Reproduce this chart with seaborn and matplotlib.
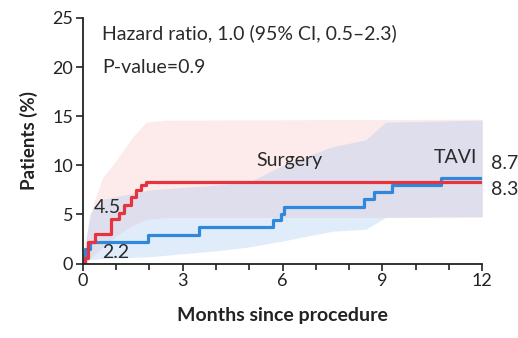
import matplotlib
matplotlib.use("Agg")
import matplotlib.pyplot as plt
import seaborn as sns
import pandas as pd
from matplotlib.ticker import MultipleLocator

# Kaplan-Meier step estimates (months, cumulative %)
surgery_t = [0, 0.05, 0.15, 0.35, 0.85, 1.1, 1.25, 1.45, 1.6, 1.75, 1.9, 12]
surgery_v = [0, 0.6, 2.2, 3.0, 4.5, 5.2, 6.0, 6.8, 7.5, 8.0, 8.3, 8.3]
tavi_t = [0, 0.05, 0.2, 1.95, 3.5, 5.7, 5.95, 6.05, 8.45, 8.75, 9.3, 10.75, 12]
tavi_v = [0, 1.5, 2.2, 2.9, 3.7, 4.4, 5.1, 5.8, 6.6, 7.3, 8.0, 8.7, 8.7]

# 95% confidence bands
surgery_ci_t = [0, 0.05, 0.3, 0.6, 1.0, 1.5, 1.9, 2.5, 12]
surgery_ci_hi = [0, 2.0, 6.0, 8.8, 10.5, 12.9, 14.4, 14.6, 14.7]
surgery_ci_lo = [0, 0.2, 0.8, 1.7, 2.8, 3.9, 4.5, 4.7, 4.7]
tavi_ci_t = [0, 0.2, 0.5, 2.0, 4.0, 5.0, 6.0, 7.5, 8.5, 9.1, 12]
tavi_ci_hi = [0, 5.0, 6.5, 7.5, 8.0, 8.3, 10.0, 11.9, 12.6, 14.4, 14.6]
tavi_ci_lo = [0, 0.4, 0.5, 0.7, 1.3, 1.7, 2.3, 3.3, 3.5, 4.7, 4.8]

final_labels = ["8.7", "8.3"]
x_ticks = [0, 3, 6, 9, 12]
y_ticks = [0, 5, 10, 15, 20, 25]

red = "#e5343d"
blue = "#2f88dc"

sns.set_theme(style="ticks")
plt.rcParams["font.family"] = ["Lato", "DejaVu Sans"]

fig = plt.figure(figsize=(5.18, 3.38), dpi=100)
ax = fig.add_axes([0.160, 0.220, 0.771, 0.727])

ax.fill_between(surgery_ci_t, surgery_ci_lo, surgery_ci_hi,
                color=(0.98, 0.72, 0.72), alpha=0.28, lw=0)
ax.fill_between(tavi_ci_t, tavi_ci_lo, tavi_ci_hi,
                color=(0.58, 0.74, 0.95), alpha=0.28, lw=0)

df_s = pd.DataFrame({"t": surgery_t, "v": surgery_v})
df_t = pd.DataFrame({"t": tavi_t, "v": tavi_v})
sns.lineplot(data=df_t, x="t", y="v", ax=ax, color=blue, lw=2.3,
             drawstyle="steps-post", estimator=None, sort=False)
sns.lineplot(data=df_s, x="t", y="v", ax=ax, color=red, lw=2.3,
             drawstyle="steps-post", estimator=None, sort=False)

ax.set_xlim(0, 12)
ax.set_ylim(0, 25)
ax.set_xticks(x_ticks)
ax.set_yticks(y_ticks)
ax.xaxis.set_minor_locator(MultipleLocator(1))
ax.tick_params(axis="both", which="major", labelsize=13, length=5,
               width=1.2, color="#222222", labelcolor="#222222", pad=2)
ax.tick_params(axis="x", which="minor", length=4, width=1.2, color="#222222")
for s in ["left", "bottom"]:
    ax.spines[s].set_linewidth(1.3)
    ax.spines[s].set_color("#222222")
sns.despine(ax=ax)

ax.set_xlabel("Months since procedure", fontsize=14, fontweight="bold",
              color="#222222", labelpad=13)
ax.set_ylabel("Patients (%)", fontsize=13.5, fontweight="bold",
              color="#222222", labelpad=10)

txt = dict(color="#2a2a2a", fontsize=14)
ax.text(0.57, 23.4, "Hazard ratio, 1.0 (95% CI, 0.5\u20132.3)", va="center", ha="left", **txt)
ax.text(0.57, 20.0, "P-value=0.9", va="center", ha="left", **txt)
ax.text(6.2, 10.5, "Surgery", va="center", ha="center", **txt)
ax.text(11.2, 10.8, "TAVI", va="center", ha="center", **txt)
ax.text(0.75, 5.75, "4.5", va="center", ha="center", **txt)
ax.text(1.0, 1.15, "2.2", va="center", ha="center", **txt)
ax.text(12.25, tavi_v[-1] + 1.45, final_labels[0], va="center", ha="left", clip_on=False, **txt)
ax.text(12.25, surgery_v[-1] - 0.8, final_labels[1], va="center", ha="left", clip_on=False, **txt)

fig.savefig("out.png", dpi=100)
